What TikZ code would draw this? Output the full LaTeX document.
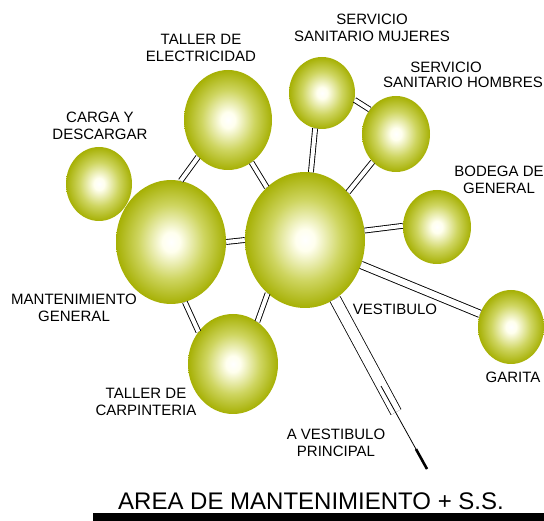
\documentclass[tikz,border=0pt]{standalone}
\usepackage{fontspec}
\setmainfont{Liberation Sans}
\usetikzlibrary{shapes.geometric, calc}

\definecolor{rimgreen}{RGB}{166,176,4}
\definecolor{midgreen}{RGB}{206,213,96}
\definecolor{coregreen}{RGB}{255,255,238}
\pgfdeclareradialshading{bubble}{\pgfpoint{0bp}{0bp}}{color(0bp)=(white); color(4bp)=(coregreen); color(15bp)=(midgreen); color(25bp)=(rimgreen); color(50bp)=(rimgreen)}

\begin{document}
\begin{tikzpicture}[
            x = 1pt, y = -1pt, % pixel grid, y down
            space/.style={ellipse, inner sep=0pt, shading=bubble},
            link/.style={draw=black, line width=0.9pt, double=white, double distance=4pt},
            widelink/.style={link, double distance=6.5pt},
            corridor/.style={draw=black, line width=0.8pt, double=white, double distance=10.5pt},
            label/.style={align=center, font=\fontsize{15}{17}\selectfont}
        ]

        \useasboundingbox (0,0) rectangle (544,521);

        % Spaces
        \node[space, minimum width=120pt, minimum height=136pt] (hub) at (305,240) {};
        \node[space, minimum width=110pt, minimum height=124pt] (mant) at (171,242) {};
        \node[space, minimum width=88pt, minimum height=100pt] (elec) at (228,120) {};
        \node[space, minimum width=66pt, minimum height=74pt] (carga) at (99,184) {};
        \node[space, minimum width=66pt, minimum height=72pt] (muj) at (322,93) {};
        \node[space, minimum width=68pt, minimum height=76pt] (hom) at (396,134) {};
        \node[space, minimum width=68pt, minimum height=74pt] (bod) at (437,227) {};
        \node[space, minimum width=66pt, minimum height=74pt] (gar) at (511,327) {};
        \node[space, minimum width=90pt, minimum height=100pt] (carp) at (233,364) {};

        % Labels
        \node[label] (elec-label) at (201,48) {TALLER DE\\ELECTRICIDAD};
        \node[label] (muj-label) at (372,28) {SERVICIO\\SANITARIO MUJERES};
        \node[label] (hom-label) at (463,75) {\hspace*{-34pt}SERVICIO\\[-2pt]SANITARIO HOMBRES};
        \node[label] (carga-label) at (100,126) {CARGA Y\\DESCARGAR};
        \node[label] (bod-label) at (499,180) {BODEGA DE\\GENERAL};
        \node[label] (mant-label) at (74,308) {MANTENIMIENTO\\GENERAL};
        \node[label] (carp-label) at (146,402) {TALLER DE\\CARPINTERIA};
        \node[label] (vest-label) at (395,309) {VESTIBULO};
        \node[label] (avest-label) at (336,443) {A VESTIBULO\\PRINCIPAL};
        \node[label] (gar-label) at (513,377) {GARITA};

        % Connections
        \draw[link] (mant.east) -- (hub.west);
        \draw[link] (elec.231) -- (mant.81);
        \draw[link] (elec.299) -- (hub.126);
        \draw[link] (carp.137) -- (mant.283);
        \draw[link] (carp.60) -- (hub.235);
        \draw[link] (muj.259) -- (hub.85);
        \draw[link] (hom.230) -- (hub.48);
        \draw[link] (muj.348) -- (hom.137);
        \draw[link] (hub.9) -- (bod.178);
        \draw[widelink] (hub.336) -- (gar.157);

        % Vestibulo
        \coordinate (vest-end) at (396,412);
        \coordinate (vest-mid) at (381,386);
        \coordinate (vest-tip) at (427,469);
        \draw[corridor] (hub.297) -- (vest-end);
        \draw[line width=0.8pt] (vest-mid) -- (vest-tip);
        \draw[line width=2.6pt] ($(vest-mid)!0.76!(vest-tip)$) -- (vest-tip);

        % Title
        \node[anchor=base, font=\fontsize{24}{28}\selectfont] (title) at (311,509) {AREA DE MANTENIMIENTO + S.S.};
        \fill[black] (93,513) rectangle (544,521);

    \end{tikzpicture}
\end{document}
